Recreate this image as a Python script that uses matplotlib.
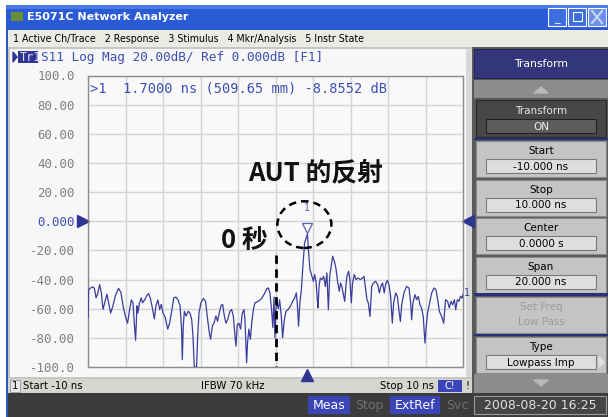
import matplotlib
matplotlib.use("Agg")
import matplotlib.pyplot as plt
from matplotlib.patches import Rectangle, Ellipse, Polygon
import matplotlib.transforms as mtrans

# ---------------- data ----------------
time_ns = [-10.00, -9.97, -9.88, -9.75, -9.66, -9.57, -9.49, -9.38, -9.29, -9.20,
           -9.11, -8.99, -8.90, -8.79, -8.69, -8.54, -8.37, -8.24, -8.13, -8.01,
           -7.89, -7.78, -7.69, -7.60, -7.51, -7.46, -7.39, -7.34, -7.25, -7.16,
           -7.09, -6.98, -6.86, -6.77, -6.68, -6.59, -6.46, -6.38, -6.27, -6.18,
           -6.09, -6.00, -5.88, -5.75, -5.65, -5.52, -5.43, -5.31, -5.20, -5.09,
           -5.01, -4.97, -4.92, -4.86, -4.77, -4.65, -4.56, -4.47, -4.40, -4.33,
           -4.21, -4.15, -4.08, -3.98, -3.85, -3.73, -3.62, -3.53, -3.46, -3.37,
           -3.28, -3.18, -3.09, -3.00, -2.91, -2.82, -2.73, -2.64, -2.55, -2.43,
           -2.34, -2.25, -2.16, -2.11, -2.04, -1.95, -1.86, -1.77, -1.68, -1.63,
           -1.54, -1.49, -1.42, -1.34, -1.27, -1.18, -1.10, -0.92, -0.74, -0.60,
           -0.47, -0.38, -0.30, -0.21, -0.14, -0.08, -0.03, 0.02, 0.08, 0.15,
           0.22, 0.31, 0.38, 0.47, 0.56, 0.66, 0.79, 0.91, 1.02, 1.11,
           1.16, 1.23, 1.30, 1.38, 1.46, 1.55, 1.70, 1.77, 1.84, 1.94,
           2.02, 2.09, 2.16, 2.23, 2.27, 2.32, 2.39, 2.48, 2.57, 2.66,
           2.74, 2.82, 2.89, 2.98, 3.05, 3.14, 3.22, 3.31, 3.40, 3.47,
           3.54, 3.62, 3.69, 3.76, 3.81, 3.90, 3.97, 4.04, 4.11, 4.20,
           4.29, 4.40, 4.52, 4.65, 4.72, 4.79, 4.88, 4.95, 5.04, 5.13,
           5.22, 5.34, 5.45, 5.54, 5.62, 5.71, 5.80, 5.87, 5.96, 6.05,
           6.14, 6.23, 6.30, 6.41, 6.50, 6.58, 6.66, 6.73, 6.85, 6.99,
           7.12, 7.21, 7.26, 7.33, 7.44, 7.53, 7.62, 7.70, 7.79, 7.88,
           7.97, 8.04, 8.11, 8.22, 8.33, 8.45, 8.56, 8.65, 8.74, 8.86,
           8.97, 9.07, 9.18, 9.27, 9.36, 9.45, 9.54, 9.61, 9.70, 9.78,
           9.87, 9.96, 10.00]
s11_db = [-66, -47, -46, -45, -46, -52.5, -50, -43.4, -49, -60.5,
          -56, -50, -56, -63, -59, -51, -46, -49, -58, -65,
          -70, -60.5, -54, -56, -74, -81.6, -58, -63, -56, -52.6,
          -56, -54, -51, -49.6, -52.6, -58, -67, -58, -54, -60.6,
          -57, -63, -66, -74, -70, -60.6, -52.6, -52, -54, -58,
          -74, -95, -72, -61.7, -65, -61.7, -63, -67.4, -79, -100,
          -100, -79, -63, -56, -53, -55, -67.4, -76.6, -81, -72,
          -70, -65, -68.6, -63, -58, -57, -65, -70, -67.4, -61.7,
          -60.6, -65, -79, -85.7, -71, -70, -74, -63, -60.6, -67.4,
          -97, -83, -74, -81, -70, -60.6, -56, -55, -53, -50,
          -46.4, -45.7, -49, -60.6, -73, -52, -80, -60, -56, -60,
          -54, -65.3, -80, -67.6, -61.8, -60.7, -58.4, -55, -52.7, -49.2,
          -56, -72, -56, -46.9, -30.9, -14.9, -8.86, -22, -33.2, -37.8,
          -41.2, -36.6, -41.2, -53.8, -59.5, -44.7, -39, -40, -37.8, -44.7,
          -35.5, -60.7, -37.8, -29.8, -24, -27.5, -32, -41.2, -48, -42.4,
          -44.7, -50.4, -55, -43.5, -37.8, -34.3, -40, -56, -42.4, -36.6,
          -40, -39, -40, -39, -37.8, -44.7, -53.8, -56, -65.3, -44.7,
          -42.4, -41.2, -43.5, -49.2, -44.7, -42.4, -49.2, -43.5, -40.5, -43.5,
          -51.5, -69.9, -56, -49.2, -51.5, -60.7, -68.7, -57.3, -49.2, -44.7,
          -45.8, -56, -67.6, -56, -50.4, -53.8, -51.5, -57.3, -59.5, -65.3,
          -83.6, -72.1, -63, -56, -49.2, -45.8, -46.9, -53.8, -61.8, -65.3,
          -69.9, -53.8, -55, -59.5, -55, -57.3, -53.8, -60.7, -53.8, -55,
          -51.5, -52.7, -50]

marker_t = 1.70
marker_db = -8.8552
y_ticks = [100, 80, 60, 40, 20, 0, -20, -40, -60, -80, -100]
y_tick_labels = ["100.0", "80.00", "60.00", "40.00", "20.00", "0.000",
                 "-20.00", "-40.00", "-60.00", "-80.00", "-100.0"]
x_ticks = [-10, -8, -6, -4, -2, 0, 2, 4, 6, 8, 10]

menu_items = "1 Active Ch/Trace   2 Response   3 Stimulus   4 Mkr/Analysis   5 Instr State"
softkeys = [("Start", "-10.000 ns"), ("Stop", "10.000 ns"),
            ("Center", "0.0000 s"), ("Span", "20.000 ns")]

# ---------------- figure ----------------
W, H = 608, 417
fig = plt.figure(figsize=(W / 100, H / 100), dpi=100)
fig.patch.set_facecolor("white")

bg = fig.add_axes([0, 0, 1, 1])
bg.set_xlim(0, W)
bg.set_ylim(H, 0)
bg.axis("off")

UI = "DejaVu Sans"
MONO = "DejaVu Sans Mono"
NAVY = "#3a3d9c"


def rect(x, y, w, h, fc, ec="none", lw=0, z=1):
    bg.add_patch(Rectangle((x, y), w, h, facecolor=fc, edgecolor=ec, lw=lw, zorder=z))


# window frame
rect(6, 5, W - 6, H - 5, "#2b56c6")
# title bar
rect(6, 5, W - 6, 25, "#2a5bd4")
rect(6, 5, W - 6, 4, "#4a7ae6")
rect(11, 12, 12, 9, "#6b8e3a", z=2)
bg.text(27, 17, "E5071C Network Analyzer", color="white", fontsize=8,
        fontweight="bold", family=UI, va="center", ha="left", zorder=3)
for i, bx in enumerate([548, 568, 588]):
    rect(bx, 8, 18, 18, "#3d6ee0" if i < 2 else "#6a8fe8", ec="white", lw=0.8, z=2)
bg.text(557, 19, "_", color="white", fontsize=8, ha="center", va="center", zorder=3)
rect(573, 12, 9, 9, "none", ec="white", lw=0.8, z=3)
bg.plot([592, 602], [11, 23], color="#c8d6f5", lw=1.5, zorder=3)
bg.plot([592, 602], [23, 11], color="#c8d6f5", lw=1.5, zorder=3)

# menu bar
rect(8, 30, W - 8, 17, "#ecebe3")
bg.text(13, 38.5, menu_items, color="black", fontsize=6.85, family=UI,
        va="center", ha="left", zorder=3)

# main display area
rect(8, 47, 464, 332, "#c6c6c6")
rect(10, 49, 456, 328, "#f7f7f7")
rect(466, 49, 6, 328, "#d8d8d8")

# trace header
bg.add_patch(Polygon([[13, 52], [13, 62], [17, 57]], closed=True, color="#2f3590", zorder=3))
rect(18, 51, 20, 12, "#2f3590", z=2)
bg.text(19.5, 57.3, "Tr1", color="#d8dcff", fontsize=8.5, family=MONO,
        va="center", ha="left", zorder=3)
bg.text(41, 57.3, "S11 Log Mag 20.00dB/ Ref 0.000dB [F1]", color="#3d4fb5",
        fontsize=9.2, family=MONO, va="center", ha="left", zorder=3)

# status line
rect(8, 379, 464, 14, "#d6d6d0")
rect(10, 380, 10, 12, "#e8e8e8", ec="#999999", lw=0.6)
bg.text(15, 386, "1", fontsize=7.3, family=UI, ha="center", va="center")
bg.text(23, 386, "Start -10 ns", fontsize=7.3, family=UI, ha="left", va="center")
bg.text(233, 386, "IFBW 70 kHz", fontsize=7.3, family=UI, ha="center", va="center")
bg.text(434, 386, "Stop 10 ns", fontsize=7.3, family=UI, ha="right", va="center")
rect(438, 380, 24, 12, "#3b45b8")
bg.text(450, 386, "C!", color="white", fontsize=7, family=UI, ha="center", va="center")
bg.text(467, 386, "!", fontsize=7, family=UI, ha="center", va="center")

# bottom bar
rect(8, 393, W - 8, 24, "#3c3c3c")
rect(308, 396, 42, 18, "#3b45b8")
bg.text(329, 405.5, "Meas", color="white", fontsize=9, family=UI, ha="center", va="center")
bg.text(369, 405.5, "Stop", color="#707070", fontsize=9, family=UI, ha="center", va="center")
rect(390, 396, 50, 18, "#3b45b8")
bg.text(415, 405.5, "ExtRef", color="white", fontsize=9, family=UI, ha="center", va="center")
bg.text(457, 405.5, "Svc", color="#707070", fontsize=9, family=UI, ha="center", va="center")
rect(474, 396, 132, 18, "#454545", ec="#9a9a9a", lw=0.8)
bg.text(540, 405.5, "2008-08-20 16:25", color="#e0e0e0", fontsize=9, family=UI,
        ha="center", va="center")

# right soft-key panel
rect(472, 47, W - 472, 346, "#5a5a5a")
rect(474, 49, W - 474, 29, "#33367a", ec="#22245a", lw=0.8)
bg.text(541, 63.5, "Transform", color="white", fontsize=7.8, family=UI,
        ha="center", va="center")
rect(474, 80, W - 474, 18, "#8c8c8c")
bg.add_patch(Polygon([[534, 93], [548, 93], [541, 87]], closed=True, color="#b8b8b8", zorder=2))
rect(476, 100, W - 478, 37, "#474747", ec="#2a2a2a", lw=0.8)
bg.text(541, 111, "Transform", color="#e6e6e6", fontsize=7.5, family=UI,
        ha="center", va="center")
rect(486, 119, 110, 14, "#5c5c5c", ec="#222222", lw=0.8)
bg.text(541, 126.5, "ON", color="#f0f0f0", fontsize=7.5, family=UI, ha="center", va="center")
rect(474, 137.5, W - 474, 2.5, "#2a2f78")

y0 = 141
for label, value in softkeys:
    rect(476, y0, W - 478, 36, "#c4c4c4", ec="#8a8a8a", lw=0.8)
    bg.text(541, y0 + 10, label, color="black", fontsize=7.5, family=UI,
            ha="center", va="center")
    rect(486, y0 + 18, 110, 14, "#dedede", ec="#7a7a7a", lw=0.8)
    bg.text(541, y0 + 25.5, value, color="black", fontsize=7.5, family=UI,
            ha="center", va="center")
    y0 += 38.5
rect(474, 293, W - 474, 2.5, "#2a2f78")
rect(476, 297, W - 478, 36, "#c4c4c4", ec="#8a8a8a", lw=0.8)
bg.text(541, 307, "Set Freq", color="#9c9c9c", fontsize=7.5, family=UI, ha="center", va="center")
bg.text(541, 322, "Low Pass", color="#9c9c9c", fontsize=7.5, family=UI, ha="center", va="center")
rect(474, 333.5, W - 474, 2.5, "#2a2f78")
rect(476, 337, W - 478, 36, "#c4c4c4", ec="#8a8a8a", lw=0.8)
bg.text(541, 347, "Type", color="black", fontsize=7.5, family=UI, ha="center", va="center")
rect(486, 355, 110, 14, "#dedede", ec="#7a7a7a", lw=0.8)
bg.text(541, 362.5, "Lowpass Imp", color="black", fontsize=7.5, family=UI,
        ha="center", va="center")
bg.add_patch(Polygon([[599, 357], [599, 367], [604, 362]], closed=True, color="#e0e0e0", zorder=2))
rect(474, 374, W - 474, 19, "#8c8c8c")
bg.add_patch(Polygon([[534, 380], [548, 380], [541, 386]], closed=True, color="#b8b8b8", zorder=2))

# ---------------- plot axes ----------------
L, R, T, B = 88, 463, 75.5, 367
ax = fig.add_axes([L / W, (H - B) / H, (R - L) / W, (B - T) / H])
ax.set_facecolor("#f9f9f9")
ax.set_xlim(-10, 10)
ax.set_ylim(-100, 100)
ax.set_xticks(x_ticks)
ax.set_xticklabels([])
ax.set_yticks(y_ticks)
ax.set_yticklabels(y_tick_labels, family=MONO, fontsize=9, color="#808080")
for lbl in ax.get_yticklabels():
    if lbl.get_text() == "0.000":
        lbl.set_color("#3d4fb5")
ax.tick_params(length=0, pad=9.5)
ax.grid(True, color="#d4d4d4", lw=1)
for s in ax.spines.values():
    s.set_color("#8c8c8c")
    s.set_linewidth(1)

ax.plot(time_ns, s11_db, color=NAVY, lw=0.9, zorder=3)

# marker 1
up = mtrans.offset_copy(ax.transData, fig=fig, x=0, y=6, units="dots")
ax.plot([marker_t], [marker_db], marker="v", ms=7, mfc="none", mec="#5a60b8",
        mew=0.9, transform=up, zorder=4)
ax.annotate("1", xy=(marker_t, marker_db), xytext=(0, 15), textcoords="offset points",
            ha="center", va="bottom", fontsize=7, color="#5a60b8", family=UI)
ax.text(-9.88, 96, ">1  1.7000 ns (509.65 mm) -8.8552 dB", family=MONO, fontsize=9.8,
        color="#3d4fb5", ha="left", va="top")
ax.plot([marker_t], [-0.027], marker="^", ms=8, color="#2f3590",
        transform=ax.get_xaxis_transform(), clip_on=False)
ax.plot([-0.014], [0], marker=">", ms=8, color="#2f3590",
        transform=ax.get_yaxis_transform(), clip_on=False)
ax.plot([1.014], [0], marker="<", ms=8, color="#2f3590",
        transform=ax.get_yaxis_transform(), clip_on=False)
ax.annotate("1", xy=(time_ns[-1], s11_db[-1]), xytext=(1, 1), textcoords="offset points",
            ha="left", va="center", fontsize=7, color=NAVY, family=UI,
            annotation_clip=False)

# annotations
CJK = ["Noto Sans CJK SC", "DejaVu Sans"]
ax.text(2.12, 33, "AUT 的反射", family=CJK, fontsize=18.5, fontweight="bold",
        ha="center", va="center", color="#111111")
ax.text(-1.65, -13, "0 秒", family=CJK, fontsize=18.5, fontweight="bold",
        ha="center", va="center", color="#111111")
ax.plot([0, 0], [-23, -100], color="black", lw=2, ls=(0, (3, 2)), zorder=5)
ax.add_patch(Ellipse((1.54, -2.3), 2.88, 32, fill=False, edgecolor="black",
                     lw=1.8, ls=(0, (3, 2)), zorder=5))

fig.savefig("out.png", dpi=100)
